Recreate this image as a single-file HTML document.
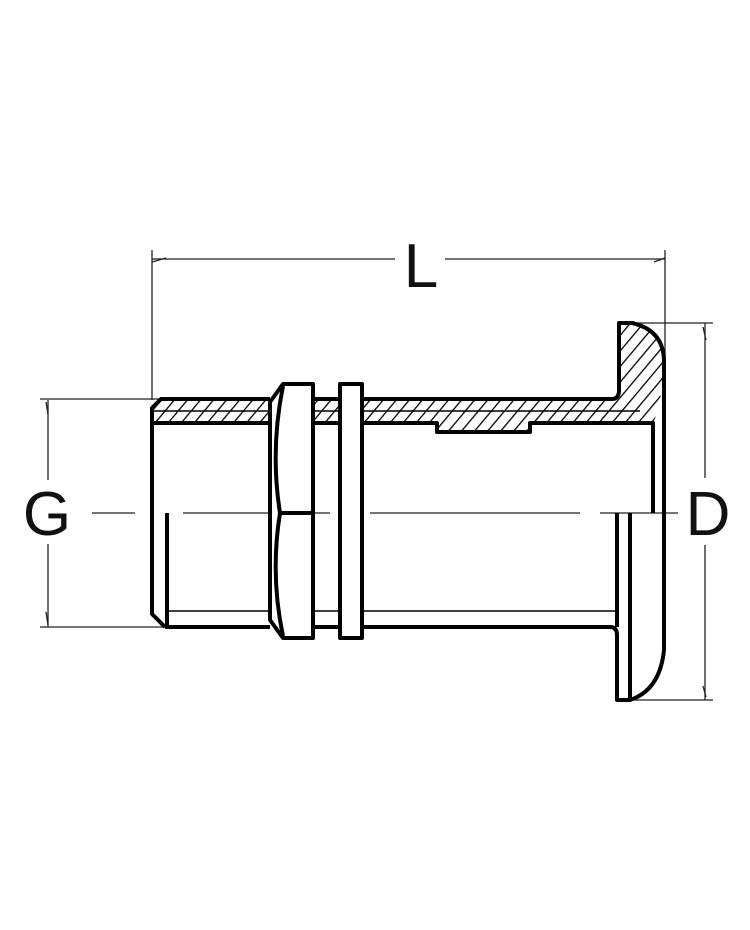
<!DOCTYPE html>
<html><head><style>html,body{margin:0;padding:0;background:#fff}svg{display:block}</style></head>
<body>
<svg width="750" height="930" viewBox="0 0 750 930" xmlns="http://www.w3.org/2000/svg">
<defs>
<pattern id="h" patternUnits="userSpaceOnUse" width="10" height="10" patternTransform="rotate(40)">
<rect width="10" height="10" fill="#fff"/><line x1="0" y1="0" x2="0" y2="10" stroke="#000" stroke-width="2.6"/>
</pattern>
</defs>
<g fill="none" stroke="#222" stroke-width="1.3">
<line x1="152" y1="250" x2="152" y2="400"/>
<line x1="665" y1="250" x2="665" y2="365"/>
<line x1="152" y1="259" x2="395" y2="259"/>
<line x1="445" y1="259" x2="665" y2="259"/>
<path d="M152 262 L166 258 M654 262 L665 258"/>
<line x1="40" y1="399" x2="160" y2="399"/>
<line x1="40" y1="627" x2="165" y2="627"/>
<line x1="48" y1="400" x2="48" y2="480"/>
<line x1="48" y1="544" x2="48" y2="627"/>
<path d="M46 402 L48 414 M46 612 L48 625"/>
<line x1="620" y1="323" x2="713" y2="323"/>
<line x1="620" y1="700" x2="713" y2="700"/>
<line x1="705" y1="323" x2="705" y2="478"/>
<line x1="705" y1="545" x2="705" y2="700"/>
<path d="M703 327 L706 340 M703 686 L706 697"/>
<path d="M92 513 L135 513 M183 513 L330 513 M370 513 L580 513 M600 513 L678 513" />
</g>
<path d="M160 399 L612 399 Q619 399 619 390 L619 323 L632 323 Q663 330 664 360 L664 370 Q660 410 653 423 L530 423 L530 432 L437 432 L437 423 L152 423 L152 408 Z" fill="url(#h)" stroke="none"/>
<g fill="none" stroke="#000" stroke-width="4" stroke-linejoin="round">
<path d="M165 627 L152 614 L152 408 L161 399 L270 399"/>
<path d="M313 399 L340 399 M362 399 L612 399 Q619 399 619 390 L619 323 L632 323 Q663 330 664 360 L664 650 Q660 690 630 700 L617 700 L617 635 Q617 627 610 627 L362 627"/>
<path d="M152 423 L270 423 M313 423 L340 423 M362 423 L437 423 L437 432 L530 432 L530 423 L653 423 L653 513"/>
<path d="M630 513 L630 700 M617 513 L617 627"/>
<path d="M165 627 L270 627 M313 627 L340 627"/>
<line x1="167" y1="513" x2="167" y2="627"/>
</g>
<g stroke="#000" stroke-width="1.5" fill="none">
<line x1="152" y1="411" x2="270" y2="411"/><line x1="313" y1="411" x2="340" y2="411"/><line x1="362" y1="411" x2="640" y2="411"/>
<line x1="165" y1="611" x2="270" y2="611"/><line x1="313" y1="611" x2="340" y2="611"/><line x1="362" y1="611" x2="617" y2="611"/>
</g>
<g fill="#fff" stroke="#000" stroke-width="4" stroke-linejoin="round">
<path d="M283 384 L313 384 L313 638 L283 638 L270 620 L270 402 Z"/>
<path d="M283 386 Q270 450 280 513 Q270 575 283 636" fill="none"/>
<line x1="280" y1="513" x2="313" y2="513"/>
<rect x="340" y="384" width="22" height="254"/>
</g>
<g font-family="Liberation Sans, sans-serif" font-size="62" fill="#111" text-anchor="middle">
<text x="421" y="287">L</text>
<text x="47" y="535">G</text>
<text x="708" y="535">D</text>
</g>
</svg>
</body></html>
